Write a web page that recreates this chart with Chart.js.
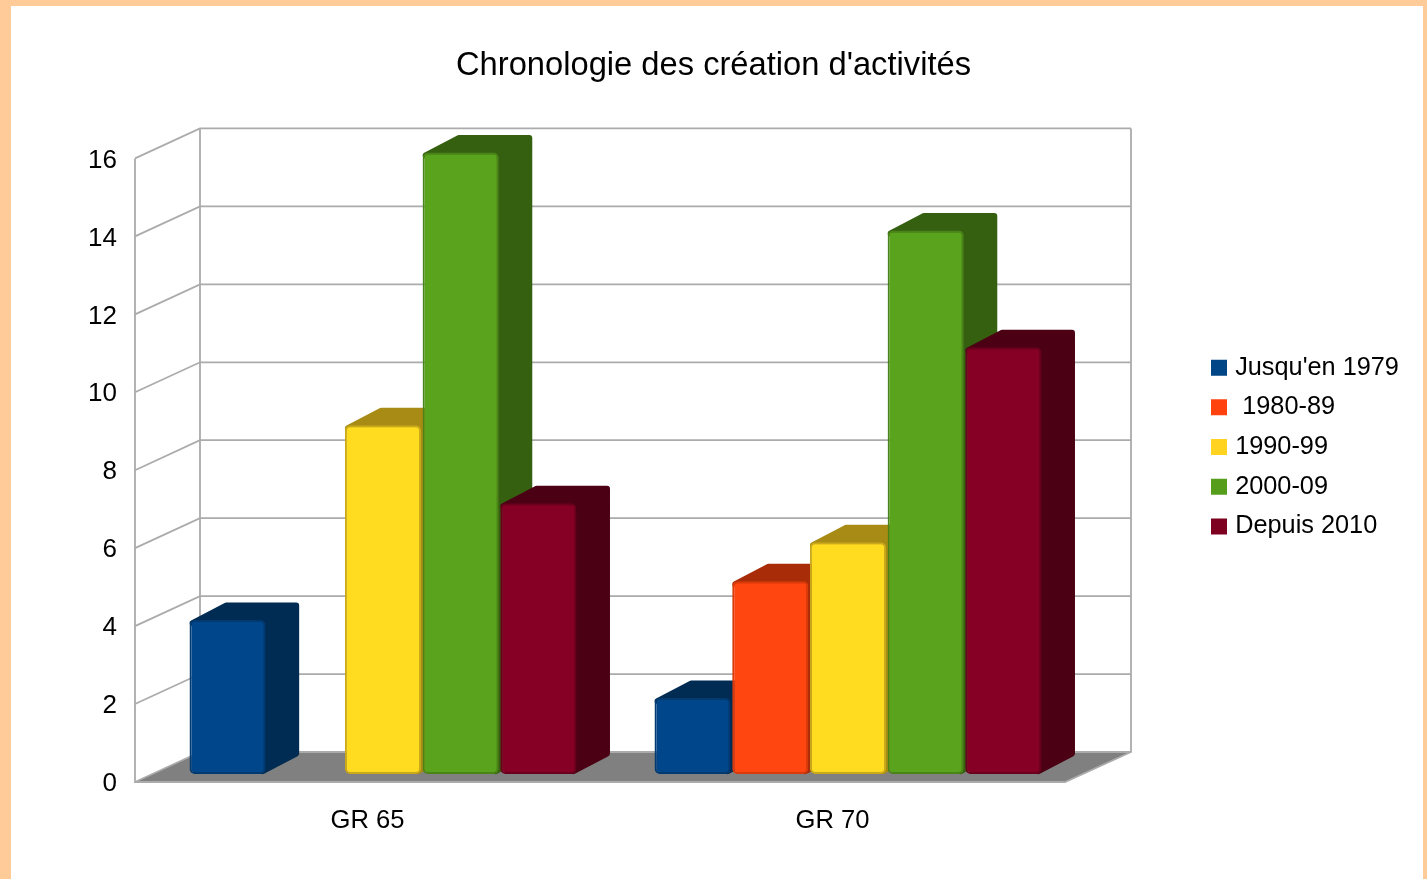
<!DOCTYPE html>
<html>
<head>
<meta charset="utf-8">
<script src="https://cdn.jsdelivr.net/npm/chart.js@4"></script>
<style>
html,body{margin:0;padding:0;background:#FFCC99;overflow:hidden}
#sheet{position:absolute;left:11px;top:6px;width:1412px;height:873px;background:#fff}
#wrap{position:absolute;left:0;top:0;width:1427px;height:879px}
canvas{display:block}
</style>
</head>
<body>
<div id="sheet"></div>
<div id="wrap"><canvas id="c" width="1427" height="879"></canvas></div>
<script>
const categories = ["GR 65", "GR 70"];
const seriesNames = ["Jusqu'en 1979", " 1980-89", "1990-99", "2000-09", "Depuis 2010"];
const jusqu1979 = [4, 2];
const s1980 = [null, 5];
const s1990 = [9, 6];
const s2000 = [16, 14];
const depuis2010 = [7, 11];
const titleText = "Chronologie des création d'activités";

const FONT = "'Liberation Sans', Arial, sans-serif";
const front = ["#00468A", "#FF4610", "#FFDC20", "#5AA31D", "#860026"];
const edge  = ["#003A70", "#D83A0C", "#C9A81C", "#4A8418", "#6A001E"];
const side  = ["#002B52", "#A82C08", "#A88B14", "#356010", "#4C0014"];
const legendCol = ["#004586", "#FF420E", "#FFD320", "#579D1C", "#7E0021"];
const values = [jusqu1979, s1980, s1990, s2000, depuis2010];

const SHIFT = {x: 15.5, y: -6};
const DEPTH = {x: 33.5, y: 17.5};
const WALL = {x: 65, y: 30};

const scene = {
  id: 'scene',
  beforeLayout(chart) {
    const lg = chart.legend;
    if (lg && !lg._wrapped) {
      const fit = lg.fit.bind(lg);
      lg.fit = function () { fit(); this.width = 362; };
      lg._wrapped = true;
    }
  },
  afterLayout(chart) {
    const lg = chart.legend;
    const p = lg.options.labels.padding;
    const h = lg.bottom - lg.top;
    lg.left = 1215.5 - p; lg.right = 1427;
    lg.top = 355 - p; lg.bottom = lg.top + h;
  },
  beforeDatasetsDraw(chart) {
    const {ctx, chartArea: a, scales: {y}} = chart;
    ctx.save();
    ctx.fillStyle = '#808080';
    ctx.beginPath();
    ctx.moveTo(a.left, a.bottom);
    ctx.lineTo(a.right, a.bottom);
    ctx.lineTo(a.right + WALL.x + 1, a.bottom - WALL.y);
    ctx.lineTo(a.left + WALL.x, a.bottom - WALL.y);
    ctx.closePath();
    ctx.fill();
    ctx.strokeStyle = '#ababab';
    ctx.lineWidth = 1.8;
    y.ticks.forEach(t => {
      const py = y.getPixelForValue(t.value);
      ctx.beginPath();
      ctx.moveTo(a.left, py);
      ctx.lineTo(a.left + WALL.x, py - WALL.y);
      if (t.value !== 0) ctx.lineTo(a.right + WALL.x + 1, py - WALL.y);
      ctx.stroke();
    });
    ctx.beginPath();
    ctx.moveTo(a.left, a.top); ctx.lineTo(a.left, a.bottom); ctx.lineTo(a.right, a.bottom);
    ctx.lineTo(a.right + WALL.x + 1, a.bottom - WALL.y);
    ctx.lineTo(a.right + WALL.x + 1, a.top - WALL.y);
    ctx.moveTo(a.left + WALL.x, a.top - WALL.y);
    ctx.lineTo(a.left + WALL.x, a.bottom - WALL.y);
    ctx.lineTo(a.right + WALL.x + 1, a.bottom - WALL.y);
    ctx.stroke();
    // depth faces of the bars, taken from the bar elements
    ctx.translate(SHIFT.x, SHIFT.y);
    ctx.lineJoin = 'round';
    ctx.lineWidth = 6;
    chart.data.datasets.forEach((ds, di) => {
      ctx.fillStyle = side[di];
      ctx.strokeStyle = side[di];
      chart.getDatasetMeta(di).data.forEach((el, i) => {
        if (ds.data[i] === null) return;
        const l = el.x - el.width / 2 + 3, r = el.x + el.width / 2 - 3;
        const t = el.y + 3, b = el.base - 3;
        const dx = DEPTH.x, dy = DEPTH.y;
        ctx.beginPath();
        ctx.moveTo(l, t);
        ctx.lineTo(l + dx, t - dy);
        ctx.lineTo(r + dx, t - dy);
        ctx.lineTo(r + dx, b - dy);
        ctx.lineTo(r, b);
        ctx.lineTo(r, t);
        ctx.closePath();
        ctx.fill();
        ctx.stroke();
      });
    });
    ctx.restore();
  },
  beforeDatasetDraw(chart) {
    chart.ctx.save();
    chart.ctx.translate(SHIFT.x, SHIFT.y);
  },
  afterDatasetDraw(chart) {
    chart.ctx.restore();
  }
};

new Chart(document.getElementById('c'), {
  type: 'bar',
  plugins: [scene],
  data: {
    labels: categories,
    datasets: seriesNames.map((name, i) => ({
      label: name,
      data: values[i],
      backgroundColor: front[i],
      borderColor: edge[i],
      borderWidth: 2,
      borderRadius: 5,
      borderSkipped: false,
      base: 0.05,
      clip: false,
      categoryPercentage: 0.8355,
      barPercentage: 0.98
    }))
  },
  options: {
    responsive: false,
    animation: false,
    layout: {padding: 0},
    plugins: {
      tooltip: {enabled: false},
      title: {
        display: true,
        text: titleText,
        color: '#000',
        font: {family: FONT, size: 32.7, weight: 'normal', lineHeight: 1.2},
        padding: {top: 46, bottom: 73.2}
      },
      legend: {
        position: 'right',
        align: 'start',
        labels: {
          color: '#000',
          font: {family: FONT, size: 25.3},
          usePointStyle: true,
          pointStyle: 'rect',
          boxWidth: 7,
          boxHeight: 16,
          padding: 14.4,
          generateLabels(chart) {
            return chart.data.datasets.map((d, i) => ({
              text: d.label, fillStyle: legendCol[i], strokeStyle: legendCol[i],
              lineWidth: 0, pointStyle: 'rect', datasetIndex: i, hidden: false
            }));
          }
        }
      }
    },
    scales: {
      x: {
        grid: {display: false},
        border: {display: false},
        ticks: {color: '#000', font: {family: FONT, size: 25.6}, padding: 16, maxRotation: 0},
        afterFit(s) { s.height = 97; }
      },
      y: {
        min: 0, max: 16,
        grid: {display: false},
        border: {display: false},
        ticks: {color: '#000', stepSize: 2, font: {family: FONT, size: 26}, padding: 10, labelOffset: 2},
        afterFit(s) { s.width = 135; }
      }
    }
  }
});
</script>
</body>
</html>
